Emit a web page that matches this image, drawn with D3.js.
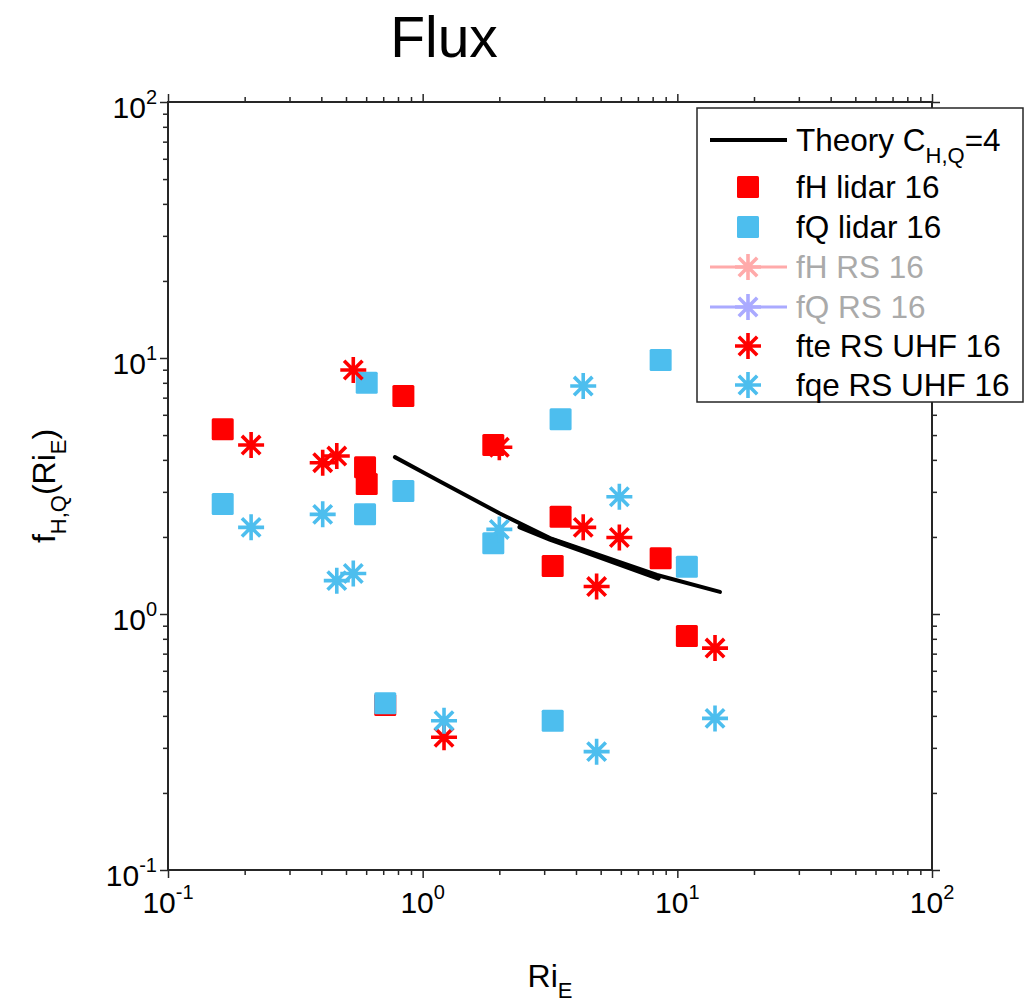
<!DOCTYPE html>
<html>
<head>
<meta charset="utf-8">
<script src="https://cdn.jsdelivr.net/npm/d3@7"></script>
<style>
  body { margin: 0; background: #fff; }
  svg { display: block; }
  text { font-family: "Liberation Sans", Arial, Helvetica, sans-serif; fill: #000; }
</style>
</head>
<body>
<svg id="chart" width="1026" height="1007"></svg>
<script>
// Lidar estimates (shared Ri_E for fH and fQ)
const riLidar = [0.164, 0.594, 0.603, 0.840, 0.713, 1.894, 3.48, 3.24, 8.60, 10.9];
const fhLidar = [5.27, 3.74, 3.22, 7.11, 0.441, 4.57, 2.40, 1.54, 1.65, 0.82];
const fqLidar = [2.69, 2.45, 8.01, 3.02, 0.448, 1.89, 5.76, 0.383, 9.83, 1.53];

// Radiosonde + UHF estimates (shared Ri_E)
const riUhf  = [0.212, 0.534, 0.405, 0.460, 2.00, 4.27, 5.92, 4.82, 14.06, 1.213];
const fteUhf = [4.57, 8.98, 3.90, 4.14, 4.48, 2.18, 1.99, 1.28, 0.736, 0.330];
const fqeUhf = [2.18, 1.44, 2.45, 1.35, 2.14, 7.77, 2.87, 0.290, 0.391, 0.383];

// Theory curves, C_{H,Q} = 4
const theoryRi  = [0.778, 1.17, 2.01, 3.16, 8.32, 14.7];
const theoryF   = [4.10, 3.29, 2.47, 1.98, 1.42, 1.22];
const theoryRi2 = [2.41, 3.16, 4.15, 8.41];
const theoryF2  = [2.19, 1.96, 1.78, 1.38];

// Axis decades and their exponent labels
const decades = [0.1, 1, 10, 100];
const decadeExp = ["-1", "0", "1", "2"];

const legendLabels = ["Theory C", "fH lidar 16", "fQ lidar 16", "fH RS 16", "fQ RS 16", "fte RS UHF 16", "fqe RS UHF 16"];

const RED = "#ff0000", BLUE = "#4dbeee", AX = "#262626";

const svg = d3.select("#chart");
const L = 168, R = 932, T = 102, B = 870;
const x = d3.scaleLog().domain([0.1, 100]).range([L, R]);
const y = d3.scaleLog().domain([0.1, 100]).range([B, T]);

const minors = [];
decades.slice(0, 3).forEach(d => { for (let k = 2; k <= 9; k++) minors.push(d * k); });

function styleAxis(g) {
  g.select(".domain").remove();
  g.selectAll("line").attr("stroke", AX).attr("stroke-width", 1.5);
}

// major and minor ticks on all four sides, pointing outward
[[d3.axisBottom(x), `translate(0,${B})`], [d3.axisTop(x), `translate(0,${T})`],
 [d3.axisLeft(y), `translate(${L},0)`], [d3.axisRight(y), `translate(${R},0)`]].forEach(([ax, tr]) => {
  svg.append("g").attr("transform", tr)
    .call(ax.tickValues(decades).tickSize(8).tickSizeOuter(0).tickFormat(() => ""))
    .call(styleAxis);
  svg.append("g").attr("transform", tr)
    .call(ax.tickValues(minors).tickSize(5).tickSizeOuter(0).tickFormat(() => ""))
    .call(styleAxis);
});

// axes box
svg.append("rect").attr("x", L).attr("y", T).attr("width", R - L).attr("height", B - T)
  .attr("fill", "none").attr("stroke", AX).attr("stroke-width", 2);

// x tick labels
decades.forEach((d, i) => {
  const t = svg.append("text").attr("x", x(d)).attr("y", 913).attr("text-anchor", "middle")
    .style("font-size", "30px");
  t.append("tspan").text("10");
  t.append("tspan").attr("dy", -14).style("font-size", "20px").text(decadeExp[i]);
});

// y tick labels
decades.forEach((d, i) => {
  const t = svg.append("text").attr("x", 157).attr("y", y(d) + 16).attr("text-anchor", "end")
    .style("font-size", "30px");
  t.append("tspan").text("10");
  t.append("tspan").attr("dy", -14).style("font-size", "20px").text(decadeExp[i]);
});

// axis titles
const xl = svg.append("text").attr("x", 550).attr("y", 987).attr("text-anchor", "middle").style("font-size", "32px");
xl.append("tspan").text("Ri");
xl.append("tspan").attr("dy", 11).style("font-size", "22px").text("E");

const yl = svg.append("text").attr("transform", "translate(55,486) rotate(-90)")
  .attr("text-anchor", "middle").style("font-size", "32px");
yl.append("tspan").text("f");
yl.append("tspan").attr("dy", 11).style("font-size", "22px").text("H,Q");
yl.append("tspan").attr("dy", -11).text("(Ri");
yl.append("tspan").attr("dy", 11).style("font-size", "22px").text("E");
yl.append("tspan").attr("dy", -11).text(")");

// title
svg.append("text").attr("x", 444).attr("y", 57).attr("text-anchor", "middle")
  .style("font-size", "57px").text("Flux");

// markers
function square(g, cx, cy, color) {
  g.append("rect").attr("x", cx - 11).attr("y", cy - 11).attr("width", 22).attr("height", 22)
    .attr("rx", 1.5).attr("fill", color);
}
function asterisk(g, cx, cy, color) {
  const r = 13, d = r * Math.SQRT1_2;
  g.append("path")
    .attr("d", `M${cx - r},${cy}L${cx + r},${cy}M${cx},${cy - r}L${cx},${cy + r}` +
               `M${cx - d},${cy - d}L${cx + d},${cy + d}M${cx - d},${cy + d}L${cx + d},${cy - d}`)
    .attr("stroke", color).attr("stroke-width", 3.6).attr("fill", "none");
}

const line = d3.line().x(d => x(d[0])).y(d => y(d[1]));
const plot = svg.append("g");
plot.append("path").datum(d3.zip(theoryRi, theoryF)).attr("d", line)
  .attr("fill", "none").attr("stroke", "#000").attr("stroke-width", 4).attr("stroke-linecap", "round");
plot.append("path").datum(d3.zip(theoryRi2, theoryF2)).attr("d", line)
  .attr("fill", "none").attr("stroke", "#000").attr("stroke-width", 5).attr("stroke-linecap", "round");

riLidar.forEach((r, i) => square(plot, x(r), y(fhLidar[i]), RED));
riLidar.forEach((r, i) => square(plot, x(r), y(fqLidar[i]), BLUE));
riUhf.forEach((r, i) => asterisk(plot, x(r), y(fteUhf[i]), RED));
riUhf.forEach((r, i) => asterisk(plot, x(r), y(fqeUhf[i]), BLUE));

// legend
const lg = svg.append("g");
lg.append("rect").attr("x", 697).attr("y", 108).attr("width", 326).attr("height", 294)
  .attr("fill", "#fff").attr("stroke", AX).attr("stroke-width", 1.5);
const rows = [140, 187, 227, 267, 307, 346, 385];
const mx = 748, tx = 796;
lg.append("line").attr("x1", 710).attr("x2", 787).attr("y1", rows[0]).attr("y2", rows[0])
  .attr("stroke", "#000").attr("stroke-width", 4);
square(lg, mx, rows[1], RED);
square(lg, mx, rows[2], BLUE);
lg.append("line").attr("x1", 710).attr("x2", 787).attr("y1", rows[3]).attr("y2", rows[3])
  .attr("stroke", "#ffaaaa").attr("stroke-width", 3);
asterisk(lg, mx, rows[3], "#ffaaaa");
lg.append("line").attr("x1", 710).attr("x2", 787).attr("y1", rows[4]).attr("y2", rows[4])
  .attr("stroke", "#aaaaff").attr("stroke-width", 3);
asterisk(lg, mx, rows[4], "#aaaaff");
asterisk(lg, mx, rows[5], RED);
asterisk(lg, mx, rows[6], BLUE);

legendLabels.forEach((lab, i) => {
  const t = lg.append("text").attr("x", tx).attr("y", rows[i] + 11).style("font-size", "31.5px")
    .style("fill", (i === 3 || i === 4) ? "#aaaaaa" : "#000");
  t.append("tspan").text(lab);
  if (i === 0) {
    t.append("tspan").attr("dy", 12).style("font-size", "22px").text("H,Q");
    t.append("tspan").attr("dy", -12).text("=4");
  }
});
</script>
</body>
</html>
